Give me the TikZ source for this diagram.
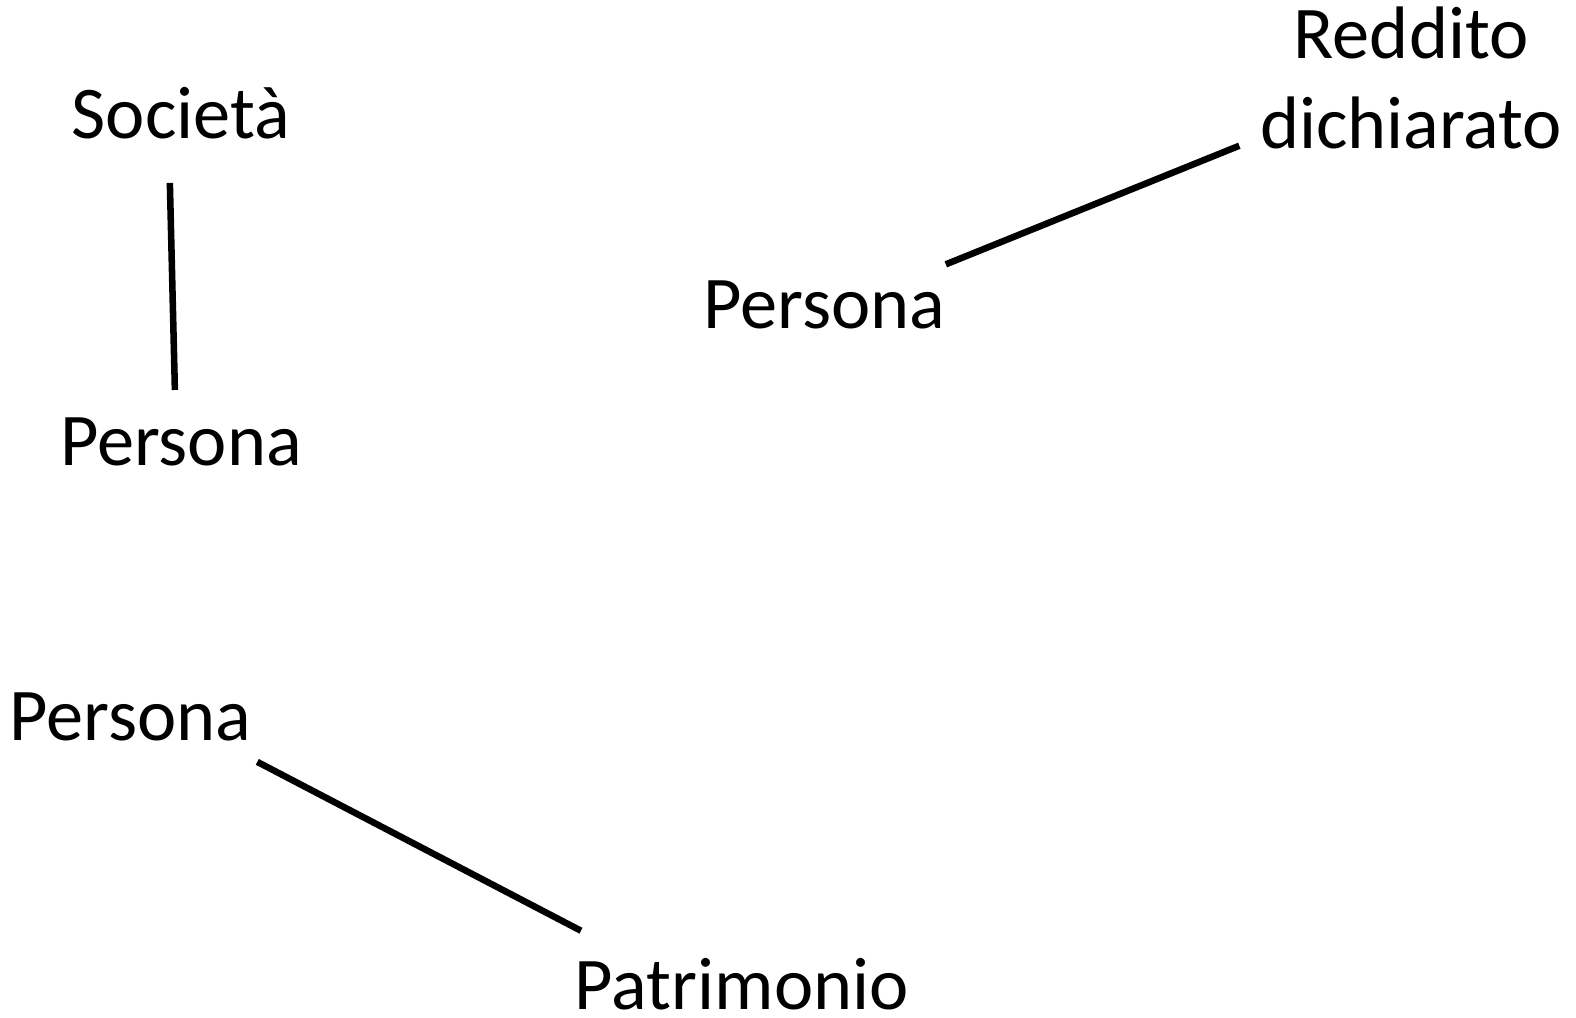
\documentclass[tikz,border=0pt]{standalone}
\usepackage{fontspec}
\setmainfont{Carlito}
\usetikzlibrary{calc}
\begin{document}
\begin{tikzpicture}[x=1pt,y=-1pt,
  lbl/.style={inner sep=0pt,anchor=base,font=\fontsize{74}{90}\selectfont,align=center},
  conn/.style={line width=6.5pt,black}]
\useasboundingbox (0,0) rectangle (1568,1012);
\node[lbl] (soc) at (180,138) {Società};
\node[lbl] (p1) at (180,463) {Persona};
\node[lbl] (p2) at (820,327) {Persona};
\node[lbl] (red) at (1404,148) {Reddito\\dichiarato};
\node[lbl] (p3) at (130,737) {Persona};
\node[lbl] (pat) at (738,1004) {Patrimonio};
\draw[conn] ($(soc.base)+(-11,44)$) -- ($(p1.base)+(-6,-75)$);
\draw[conn] ($(p2.base)+(121,-64)$) -- ($(red.base)+(-171,-3)$);
\draw[conn] ($(p3.base)+(126,21)$) -- ($(pat.base)+(-160,-78)$);
\end{tikzpicture}
\end{document}
